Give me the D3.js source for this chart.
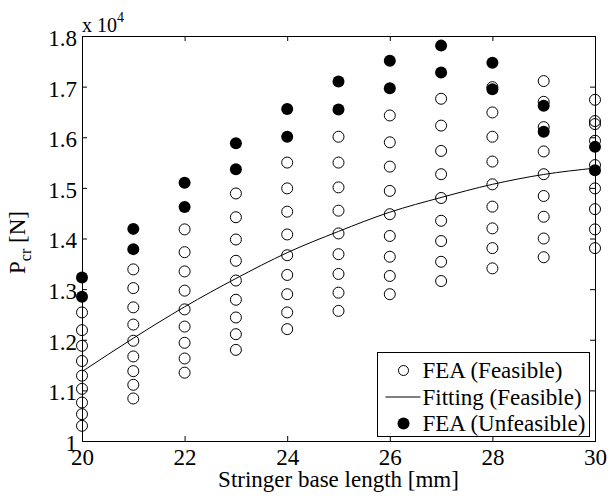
<!DOCTYPE html>
<html>
<head>
<meta charset="utf-8">
<script src="https://cdn.jsdelivr.net/npm/d3@7"></script>
<style>
  body { margin: 0; background: #fff; }
  svg text { font-family: "Liberation Serif", "Tinos", "Times New Roman", "DejaVu Serif", serif !important; fill: #000; }
</style>
</head>
<body>
<script>

// stringer base length [mm], one column of FEA results for each
var stringerLength = [20, 21, 22, 23, 24, 25, 26, 27, 28, 29, 30];

// FEA results of the feasible designs [N]
var feasibleFEA = [
  [12540, 12190, 11880, 11580, 11290, 11030, 10760, 10530, 10300],
  [13390, 13020, 12640, 12300, 11980, 11670, 11380, 11110, 10840],
  [14180, 13730, 13350, 12970, 12600, 12260, 11940, 11630, 11350],
  [14890, 14420, 13980, 13560, 13170, 12790, 12440, 12110, 11800],
  [15500, 14990, 14530, 14080, 13670, 13280, 12900, 12540, 12210],
  [16010, 15500, 15010, 14550, 14100, 13690, 13300, 12930, 12570],
  [16430, 15900, 15420, 14940, 14480, 14050, 13640, 13260, 12900],
  [16760, 16230, 15730, 15270, 14800, 14350, 13950, 13540, 13160],
  [16990, 16490, 16010, 15520, 15070, 14630, 14200, 13810, 13410],
  [17110, 16700, 16200, 15720, 15270, 14840, 14430, 14000, 13630],
  [16740, 16320, 16260, 15930, 15450, 14990, 14580, 14180, 13810]
];

// FEA results of the unfeasible designs [N]
var unfeasibleFEA = [
  [13230, 12850],
  [14190, 13790],
  [15100, 14620],
  [15880, 15370],
  [16560, 16010],
  [17100, 16550],
  [17510, 16970],
  [17810, 17280],
  [17470, 16950],
  [16620, 16110],
  [15810, 15350]
];

// fitting curve of the feasible designs, read at every stringer length
var fitFeasible = [11370, 12030, 12650, 13210, 13720, 14140, 14520, 14810, 15070, 15265, 15390];

var xTicks = [20, 22, 24, 26, 28, 30];
var yTicks = [10000, 11000, 12000, 13000, 14000, 15000, 16000, 17000, 18000];

var legendNames = ["FEA (Feasible)", "Fitting (Feasible)", "FEA (Unfeasible)"];

// flatten the columns into points
var openPoints = [];
var filledPoints = [];
for (let i = 0; i < stringerLength.length; i++) {
  feasibleFEA[i].forEach(function(v) { openPoints.push({"x": stringerLength[i], "p": v}); });
  unfeasibleFEA[i].forEach(function(v) { filledPoints.push({"x": stringerLength[i], "p": v}); });
}
var fitPoints = stringerLength.map(function(d, i) { return {"x": d, "p": fitFeasible[i]}; });

var margin = {top: 36, right: 15, bottom: 57, left: 82};
var w = 610 - margin.left - margin.right;
var h = 498 - margin.top - margin.bottom;

var svg = d3.select("body")
  .append("svg")
  .attr("width", 610)
  .attr("height", 498)
  .append("g")
  .attr("transform", "translate(" + margin.left + "," + margin.top + ")");

var x_scale = d3.scaleLinear().domain([20, 30]).range([0, w]);
var y_scale = d3.scaleLinear().domain([10000, 18000]).range([h, 0]);

// ticks point inwards on all four sides
svg.append("g")
  .attr("class", "x axis")
  .attr("transform", "translate(0," + h + ")")
  .call(d3.axisBottom(x_scale).tickValues(xTicks).tickSize(-5).tickPadding(8));

svg.append("g")
  .attr("class", "x axis top")
  .call(d3.axisTop(x_scale).tickValues(xTicks).tickSize(-5).tickFormat(""));

svg.append("g")
  .attr("class", "y axis")
  .call(d3.axisLeft(y_scale).tickValues(yTicks).tickSize(-5).tickPadding(5)
    .tickFormat(function(d) { return String(+(d / 10000).toFixed(1)); }));

svg.append("g")
  .attr("class", "y axis right")
  .attr("transform", "translate(" + w + ",0)")
  .call(d3.axisRight(y_scale).tickValues(yTicks).tickSize(-5).tickFormat(""));

svg.selectAll(".axis .domain").remove();
svg.selectAll(".axis").attr("font-family", null);
svg.selectAll(".axis line").attr("stroke", "#000");
svg.selectAll(".axis text").style("font-size", "23px");
svg.selectAll(".y.axis text").attr("dy", "0.41em");

// plot box
svg.append("rect")
  .attr("x", 0.5)
  .attr("y", 0.5)
  .attr("width", w)
  .attr("height", h)
  .attr("fill", "none")
  .attr("stroke", "#000")
  .attr("stroke-width", 1);

// exponent above the y axis
var expo = svg.append("text")
  .attr("x", 0)
  .attr("y", -4)
  .style("font-size", "20px");
expo.append("tspan").text("x 10");
expo.append("tspan").attr("dy", -10).style("font-size", "14px").text("4");

// axis labels
svg.append("text")
  .attr("x", w / 2)
  .attr("y", h + 46)
  .style("text-anchor", "middle")
  .style("font-size", "23px")
  .text("Stringer base length [mm]");

var ylab = svg.append("text")
  .attr("transform", "translate(" + (25 - margin.left) + "," + (h / 2 + 4) + ") rotate(-90)")
  .style("text-anchor", "middle")
  .style("font-size", "23px");
ylab.append("tspan").text("P");
ylab.append("tspan").attr("dy", 6).style("font-size", "16px").text("cr");
ylab.append("tspan").attr("dy", -6).text(" [N]");

// fitting curve
var line = d3.line()
  .x(function(d) { return x_scale(d.x); })
  .y(function(d) { return y_scale(d.p); })
  .curve(d3.curveMonotoneX);

svg.append("path")
  .datum(fitPoints)
  .attr("d", line)
  .attr("fill", "none")
  .attr("stroke", "#000")
  .attr("stroke-width", 1);

// feasible points
svg.selectAll("circle.open")
  .data(openPoints)
  .enter()
  .append("circle")
  .attr("class", "open")
  .attr("cx", function(d) { return x_scale(d.x); })
  .attr("cy", function(d) { return y_scale(d.p); })
  .attr("r", 5.5)
  .attr("fill", "none")
  .attr("stroke", "#000")
  .attr("stroke-width", 1);

// unfeasible points
svg.selectAll("circle.filled")
  .data(filledPoints)
  .enter()
  .append("circle")
  .attr("class", "filled")
  .attr("cx", function(d) { return x_scale(d.x); })
  .attr("cy", function(d) { return y_scale(d.p); })
  .attr("r", 6)
  .attr("fill", "#000");

// legend
var legend = svg.append("g")
  .attr("class", "legend")
  .attr("transform", "translate(295.5,316.5)");

legend.append("rect")
  .attr("width", 212)
  .attr("height", 84)
  .attr("fill", "#fff")
  .attr("stroke", "#000")
  .attr("stroke-width", 1);

var rows = legend.selectAll("g.row")
  .data(legendNames)
  .enter()
  .append("g")
  .attr("class", "row")
  .attr("transform", function(d, i) { return "translate(0," + (18 + i * 26.5) + ")"; });

rows.append("text")
  .attr("x", 45)
  .attr("y", 7.5)
  .style("font-size", "23px")
  .text(function(d) { return d; });

rows.filter(function(d, i) { return i === 0; })
  .append("circle")
  .attr("cx", 26)
  .attr("r", 5)
  .attr("fill", "none")
  .attr("stroke", "#000");

rows.filter(function(d, i) { return i === 1; })
  .append("line")
  .attr("x1", 8)
  .attr("x2", 43)
  .attr("stroke", "#000");

rows.filter(function(d, i) { return i === 2; })
  .append("circle")
  .attr("cx", 26)
  .attr("r", 6)
  .attr("fill", "#000");

</script>
</body>
</html>
